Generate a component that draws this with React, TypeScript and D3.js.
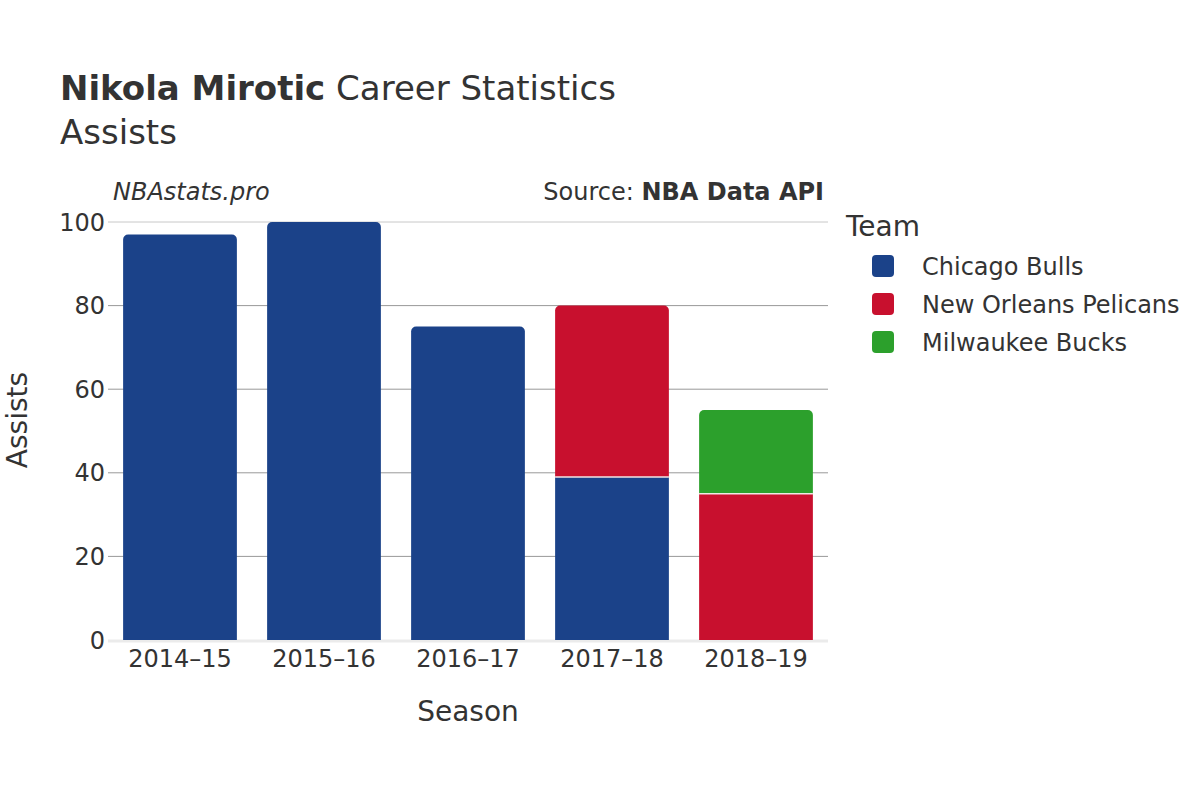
import React, { useEffect, useRef } from "react";
import * as d3 from "d3";

const seasons = ["2014–15", "2015–16", "2016–17", "2017–18", "2018–19"];
const teams = ["Chicago Bulls", "New Orleans Pelicans", "Milwaukee Bucks"];
const teamColors = ["#1b4289", "#c8102e", "#2ca02c"];
// per season, stacked from bottom: [team index, value]
const stackTeams = [[0], [0], [0], [0, 1], [1, 2]];
const stackValues = [[97], [100], [75], [39, 41], [35, 20]];
const yTicks = [0, 20, 40, 60, 80, 100];

const FONT = "'DejaVu Sans', sans-serif";

function App() {
  const ref = useRef<SVGSVGElement>(null);

  useEffect(() => {
    const width = 1200;
    const height = 800;
    const margin = { top: 222, left: 108, bottom: 160, right: 372 };

    const svg = d3.select(ref.current);
    svg.selectAll("*").remove();

    const x = d3.scaleBand()
      .domain(seasons)
      .range([margin.left, width - margin.right])
      .paddingInner(0.21)
      .paddingOuter(0.105);

    const y = d3.scaleLinear()
      .domain([0, 100])
      .range([height - margin.bottom, margin.top]);

    // grid
    svg.append("g")
      .selectAll("line")
      .data(yTicks.filter(t => t > 0))
      .enter()
      .append("line")
      .attr("x1", margin.left)
      .attr("x2", width - margin.right)
      .attr("y1", d => y(d))
      .attr("y2", d => y(d))
      .attr("stroke", d => (d === 100 ? "#c8c8c8" : "#999"))
      .attr("stroke-width", 1);

    svg.append("line")
      .attr("x1", margin.left)
      .attr("x2", width - margin.right)
      .attr("y1", y(0) + 1)
      .attr("y2", y(0) + 1)
      .attr("stroke", "#ebebeb")
      .attr("stroke-width", 3);

    // y tick labels
    svg.append("g")
      .selectAll("text")
      .data(yTicks)
      .enter()
      .append("text")
      .attr("x", margin.left - 3)
      .attr("y", d => y(d))
      .attr("dy", "0.36em")
      .attr("text-anchor", "end")
      .attr("font-family", FONT)
      .attr("font-size", 24)
      .attr("fill", "#333")
      .text(d => d);

    // x tick labels
    svg.append("g")
      .selectAll("text")
      .data(seasons)
      .enter()
      .append("text")
      .attr("x", d => (x(d) as number) + x.bandwidth() / 2)
      .attr("y", y(0) + 27)
      .attr("text-anchor", "middle")
      .attr("font-family", FONT)
      .attr("font-size", 24)
      .attr("fill", "#333")
      .text(d => d);

    // bars
    const r = 5;
    const bw = x.bandwidth();
    const barG = svg.append("g");
    seasons.forEach((s, i) => {
      let base = 0;
      const n = stackValues[i].length;
      stackValues[i].forEach((v, j) => {
        const x0 = x(s) as number;
        const yb = y(base);
        const yt = y(base + v);
        const color = teamColors[stackTeams[i][j]];
        if (j === n - 1) {
          const p = d3.path();
          p.moveTo(x0, yb);
          p.lineTo(x0, yt + r);
          p.arcTo(x0, yt, x0 + r, yt, r);
          p.lineTo(x0 + bw - r, yt);
          p.arcTo(x0 + bw, yt, x0 + bw, yt + r, r);
          p.lineTo(x0 + bw, yb);
          p.closePath();
          barG.append("path").attr("d", p.toString()).attr("fill", color);
        } else {
          barG.append("rect")
            .attr("x", x0)
            .attr("y", yt)
            .attr("width", bw)
            .attr("height", yb - yt)
            .attr("fill", color);
        }
        if (j > 0) {
          barG.append("line")
            .attr("x1", x0)
            .attr("x2", x0 + bw)
            .attr("y1", yb)
            .attr("y2", yb)
            .attr("stroke", "#f2e6e6")
            .attr("stroke-width", 1.5);
        }
        base += v;
      });
    });

    // titles
    const title = svg.append("text")
      .attr("x", 60)
      .attr("y", 100)
      .attr("font-family", FONT)
      .attr("font-size", 34)
      .attr("fill", "#333");
    title.append("tspan").attr("font-weight", "bold").text("Nikola Mirotic");
    title.append("tspan").text(" Career Statistics");

    svg.append("text")
      .attr("x", 60)
      .attr("y", 144)
      .attr("font-family", FONT)
      .attr("font-size", 34)
      .attr("fill", "#333")
      .text("Assists");

    svg.append("text")
      .attr("x", 113)
      .attr("y", 200)
      .attr("font-family", FONT)
      .attr("font-style", "italic")
      .attr("font-size", 24)
      .attr("fill", "#333")
      .text("NBAstats.pro");

    const src = svg.append("text")
      .attr("x", 824)
      .attr("y", 200)
      .attr("text-anchor", "end")
      .attr("font-family", FONT)
      .attr("font-size", 24)
      .attr("fill", "#333");
    src.append("tspan").text("Source: ");
    src.append("tspan").attr("font-weight", "bold").text("NBA Data API");

    // axis titles
    svg.append("text")
      .attr("x", (margin.left + width - margin.right) / 2)
      .attr("y", 721)
      .attr("text-anchor", "middle")
      .attr("font-family", FONT)
      .attr("font-size", 28)
      .attr("fill", "#333")
      .text("Season");

    svg.append("text")
      .attr("transform", `translate(27, 420) rotate(-90)`)
      .attr("text-anchor", "middle")
      .attr("font-family", FONT)
      .attr("font-size", 28)
      .attr("fill", "#333")
      .text("Assists");

    // legend
    svg.append("text")
      .attr("x", 846)
      .attr("y", 236)
      .attr("font-family", FONT)
      .attr("font-size", 28)
      .attr("fill", "#333")
      .text("Team");

    const lg = svg.append("g")
      .selectAll("g")
      .data(teams)
      .enter()
      .append("g")
      .attr("transform", (d, i) => `translate(0, ${266 + i * 38})`);
    lg.append("rect")
      .attr("x", 872)
      .attr("y", -11)
      .attr("width", 22)
      .attr("height", 22)
      .attr("rx", 4)
      .attr("fill", (d, i) => teamColors[i]);
    lg.append("text")
      .attr("x", 922)
      .attr("y", 0)
      .attr("dy", "0.36em")
      .attr("font-family", FONT)
      .attr("font-size", 24)
      .attr("fill", "#333")
      .text(d => d);
  }, []);

  return (
    <svg ref={ref} width={1200} height={800} style={{ position: "absolute", left: 0, top: 0 }} />
  );
}

export default App;
